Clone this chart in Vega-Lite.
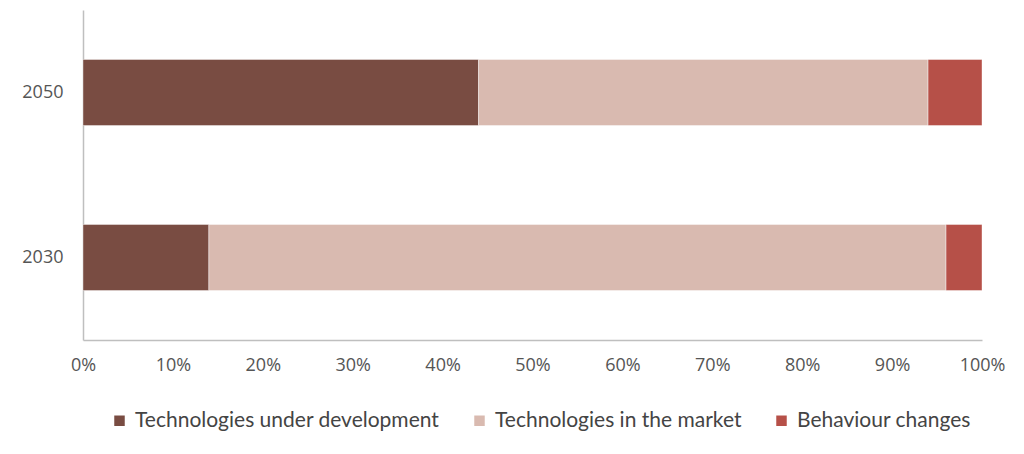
{
  "$schema": "https://vega.github.io/schema/vega-lite/v6.json",
  "width": 899,
  "height": 330,
  "autosize": "none",
  "padding": {"left": 83, "top": 10, "right": 42, "bottom": 114},
  "config": {
    "view": {"stroke": null},
    "font": "Open Sans",
    "axis": {"labelFont": "Open Sans", "labelColor": "#555555", "labelFontSize": 18, "domainColor": "#bfbfbf", "domainWidth": 1.5, "ticks": false, "grid": false, "title": null}
  },
  "data": {
    "values": [
      {"year": "2050", "type": "Technologies under development", "k": 1, "share": 0.44},
      {"year": "2050", "type": "Technologies in the market", "k": 2, "share": 0.50},
      {"year": "2050", "type": "Behaviour changes", "k": 3, "share": 0.06},
      {"year": "2030", "type": "Technologies under development", "k": 1, "share": 0.14},
      {"year": "2030", "type": "Technologies in the market", "k": 2, "share": 0.82},
      {"year": "2030", "type": "Behaviour changes", "k": 3, "share": 0.04}
    ]
  },
  "mark": {"type": "bar", "size": 66, "stroke": "#ffffff", "strokeWidth": 0.4},
  "encoding": {
    "y": {
      "field": "year", "type": "nominal", "sort": "descending",
      "scale": {"paddingInner": 0, "paddingOuter": 0},
      "axis": {"labelPadding": 20}
    },
    "x": {
      "field": "share", "type": "quantitative", "stack": "zero",
      "scale": {"domain": [0, 1]},
      "axis": {"format": ".0%", "values": [0, 0.1, 0.2, 0.3, 0.4, 0.5, 0.6, 0.7, 0.8, 0.9, 1], "labelPadding": 16, "labelFlush": false}
    },
    "order": {"field": "k"},
    "color": {
      "field": "type", "type": "nominal",
      "scale": {
        "domain": ["Technologies under development", "Technologies in the market", "Behaviour changes"],
        "range": ["#794C42", "#D9BAB0", "#B65048"]
      },
      "legend": {
        "title": null, "orient": "none", "direction": "horizontal",
        "legendX": 26, "legendY": 400,
        "symbolType": "square", "symbolSize": 110, "symbolStrokeWidth": 0,
        "labelFontSize": 21, "labelColor": "#444444", "labelFont": "Lato",
        "columnPadding": 29, "labelOffset": 5, "labelLimit": 400
      }
    }
  }
}
